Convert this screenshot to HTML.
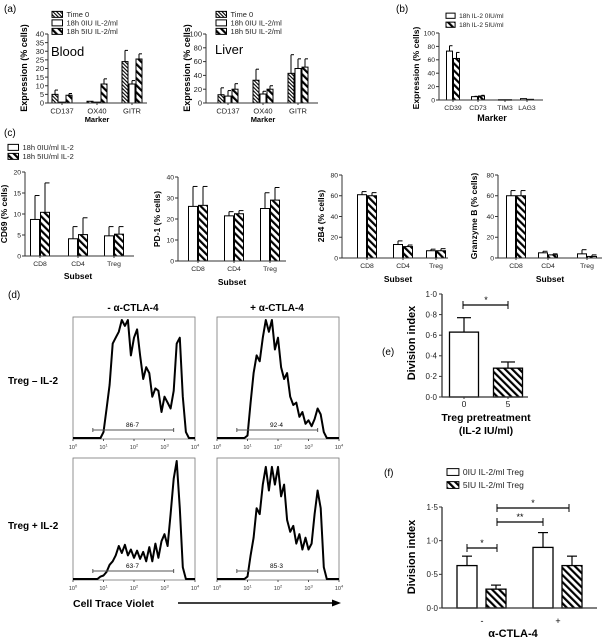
<!DOCTYPE html>
<html><head><meta charset="utf-8"><style>
html,body{margin:0;padding:0;background:#fff;}
svg{display:block;font-family:"Liberation Sans",sans-serif;}
</style></head><body>
<svg id="fig" width="606" height="639" viewBox="0 0 606 639" xmlns="http://www.w3.org/2000/svg">
<defs>
<pattern id="hatchWide" patternUnits="userSpaceOnUse" width="5" height="5" patternTransform="rotate(-45)"><rect width="5" height="5" fill="#fff"/><rect width="2.2" height="5" fill="#000"/></pattern>
<pattern id="hatchFine" patternUnits="userSpaceOnUse" width="2.6" height="2.6" patternTransform="rotate(-45)"><rect width="2.6" height="2.6" fill="#fff"/><rect width="1.1" height="2.6" fill="#000"/></pattern>
</defs>
<g id="root"></g>
<g font-size="8" text-anchor="end" fill="#222">
<text x="437" y="399.8">0·0</text>
<text x="437" y="379.2">0·2</text>
<text x="437" y="358.6">0·4</text>
<text x="437" y="338.0">0·6</text>
<text x="437" y="317.4">0·8</text>
<text x="437" y="296.8">1·0</text>
</g>
</svg>
<script>
// ---------- data ----------
const aCats = ["CD137","OX40","GITR"];
const bloodT0 = [5,1,24], bloodT0Err = [2.5,0,6.5];
const blood0 = [0.5,0.5,11], blood0Err = [0,0,2];
const blood5 = [4.5,11,25.5], blood5Err = [1,3,3];
const bloodTicks = [0,5,10,15,20,25,30,35,40];
const liverT0 = [12,33,43], liverT0Err = [10,16,27];
const liver0 = [10,13,50], liver0Err = [8,4,14];
const liver5 = [20,20,52], liver5Err = [8,5,12];
const liverTicks = [0,20,40,60,80,100];
const bCats = ["CD39","CD73","TIM3","LAG3"];
const b0 = [73,5,0.5,2], b0Err = [8,0.5,0,0];
const b5 = [62,6,0.5,1], b5Err = [9,1,0,0];
const bTicks = [0,20,40,60,80,100];
const cCats = ["CD8","CD4","Treg"];
const cd69_0 = [8.7,4.1,4.8], cd69_0Err = [5.7,2.9,2.2];
const cd69_5 = [10.4,5.1,5.2], cd69_5Err = [7,4,1.8];
const cd69Ticks = [0,5,10,15,20];
const pd1_0 = [26,21.5,25], pd1_0Err = [9.5,2,7.5];
const pd1_5 = [26.5,22.5,29], pd1_5Err = [9,1.5,6];
const pd1Ticks = [0,10,20,30,40];
const b4_0 = [61,13,7], b4_0Err = [3,3.5,1.5];
const b4_5 = [60,11,7], b4_5Err = [3,1.5,2];
const gzb_0 = [60,5,4], gzb_0Err = [5,1.5,4];
const gzb_5 = [60,3,1.5], gzb_5Err = [5,1,1.5];
const c80Ticks = [0,20,40,60,80];
const eCats = ["0","5"];
const eVals = [0.63,0.28], eErr = [0.14,0.06];
const eTickVals = [0,0.2,0.4,0.6,0.8,1.0];
const fVals = [0.63,0.28,0.90,0.63], fErr = [0.14,0.06,0.22,0.14];
const fTicks = ["0·0","0·5","1·0","1·5"];
const histTL = [0,0,0,0,0,0,0,0,0,0,0.05,0.25,0.45,0.8,0.85,0.9,1.0,0.95,1.0,0.7,0.85,0.92,0.7,0.5,0.6,0.55,0.35,0.42,0.4,0.22,0.35,0.3,0.25,0.4,0.8,0.85,0.35,0.05,0,0,0];
const histTR = [0,0,0,0,0,0,0,0,0,0,0.02,0.3,0.55,0.7,0.65,0.85,1.0,0.9,1.0,0.75,0.85,0.6,0.5,0.55,0.35,0.28,0.3,0.18,0.22,0.12,0.15,0.1,0.16,0.25,0.2,0.05,0,0,0,0,0];
const histBL = [0,0,0,0,0,0,0,0,0,0.02,0.03,0.06,0.12,0.15,0.2,0.28,0.22,0.29,0.2,0.25,0.18,0.24,0.17,0.23,0.15,0.27,0.15,0.3,0.18,0.32,0.38,0.28,0.55,0.85,1.0,0.6,0.1,0,0,0,0];
const histBR = [0,0,0,0,0,0,0,0,0,0,0.02,0.2,0.35,0.6,0.55,0.8,0.95,0.75,0.95,0.8,0.95,0.7,0.8,0.5,0.4,0.45,0.3,0.38,0.25,0.35,0.25,0.3,0.55,0.75,0.6,0.1,0,0,0,0,0];
const gateLabels = ["86·7","92·4","63·7","85·3"];

// ---------- helpers ----------
const NS="http://www.w3.org/2000/svg";
const root=document.getElementById('root');
function el(tag,attrs,parent,text){const e=document.createElementNS(NS,tag);for(const k in attrs)e.setAttribute(k,attrs[k]);if(text!==undefined)e.textContent=text;(parent||root).appendChild(e);return e;}
function txt(x,y,s,size,opts,parent){opts=opts||{};const t=el('text',{x:x,y:y,'font-size':size,'text-anchor':opts.anchor||'start','font-weight':opts.bold?'bold':'normal',fill:opts.fill||'#000'},parent,s);if(opts.rot)t.setAttribute('transform','rotate(-90 '+x+' '+y+')');return t;}

function barChart(cfg){
  const g=el('g',{});
  
  
  const y0=cfg.y0,y1=cfg.y1,max=cfg.max;
  const ys=v=>y0-(v/max)*(y0-y1);
  cfg.series.forEach((s,si)=>{
    s.vals.forEach((v,i)=>{
      const cx=cfg.cx[i]+(si-(cfg.series.length-1)/2)*cfg.bw;
      const x=cx-cfg.bw/2+0.5, w=cfg.bw-1;
      const yt=ys(v);
      const err=s.err[i];
      if(err>0){
        const ye=ys(v+err);
        const l=el('line',{x1:cx,y1:yt,x2:cx,y2:ye,stroke:'#000','stroke-width':1},g);
        
        
        el('line',{x1:cx,y1:ye,x2:cx+w/2,y2:ye,stroke:'#000','stroke-width':1},g);
      }
      const r=el('rect',{x:x,y:yt,width:w,height:Math.max(0.5,y0-yt),fill:s.fill,stroke:'#000','stroke-width':cfg.sw||1},g);
      
      
    });
  });
  el('line',{x1:cfg.x0,y1:y0,x2:cfg.x0,y2:y1,stroke:'#333','stroke-width':cfg.aw||1},g);
  el('line',{x1:cfg.x0,y1:y0,x2:cfg.xEnd,y2:y0,stroke:'#333','stroke-width':cfg.aw||1},g);
  cfg.ticks.forEach((t,i)=>{
    const y=ys(t);
    el('line',{x1:cfg.x0-3,y1:y,x2:cfg.x0,y2:y,stroke:'#333','stroke-width':1},g);
    txt(cfg.x0-4,y+cfg.tfs*0.35,String(t),cfg.tfs,{anchor:'end',fill:'#222'},g);
  });
  cfg.cats.forEach((c,i)=>{
    el('line',{x1:cfg.cx[i],y1:y0,x2:cfg.cx[i],y2:y0+2,stroke:'#333'},g);
    txt(cfg.cx[i],y0+cfg.tfs+3,c,cfg.tfs,{anchor:'middle',fill:'#222'},g);
  });
  if(cfg.xlabel) txt(cfg.xlx,cfg.xly,cfg.xlabel,cfg.xfs,{anchor:'middle',bold:true},g);
  if(cfg.ylabel) txt(cfg.ylx,cfg.yly,cfg.ylabel,cfg.yfs,{anchor:'middle',bold:true,rot:true},g);
  return g;
}
function legend(x,y,items,fs,dy){
  const g=el('g',{});
  
  
  items.forEach((it,i)=>{
    const yy=y+i*dy;
    el('rect',{x:x,y:yy-fs*0.75,width:fs*1.4,height:fs*0.8,fill:it[1],stroke:'#000','stroke-width':1},g);
    const t=txt(x+fs*1.4+4,yy,it[0],fs,{fill:'#222'},g);
    
    
  });
}
const W='#fff',HW='url(#hatchWide)',HF='url(#hatchFine)';

// ---------- panel a ----------
txt(4,12,'(a)',10);
legend(52,17,[['Time 0',HF],['18h 0IU IL-2/ml',W],['18h 5IU IL-2/ml',HW]],7.5,8.5);
barChart({name:'blood-chart',x0:48,xEnd:147,y0:103,y1:34,max:40,cx:[62,97,132],bw:7,cats:aCats,ticks:bloodTicks,tfs:7.5,
 series:[{key:'t0',vals:bloodT0,err:bloodT0Err,fill:HF},{key:'0iu',vals:blood0,err:blood0Err,fill:W},{key:'5iu',vals:blood5,err:blood5Err,fill:HW}],
 xlabel:'Marker',xlx:97,xly:122,xfs:7.5,ylabel:'Expression (% cells)',ylx:27,yly:68,yfs:9});
txt(51,56,'Blood',13);
legend(216,17,[['Time 0',HF],['18h 0IU IL-2/ml',W],['18h 5IU IL-2/ml',HW]],7.5,8.5);
barChart({name:'liver-chart',x0:206,xEnd:318,y0:103,y1:34,max:100,cx:[228,263,298],bw:7,cats:aCats,ticks:liverTicks,tfs:7.5,
 series:[{key:'t0',vals:liverT0,err:liverT0Err,fill:HF},{key:'0iu',vals:liver0,err:liver0Err,fill:W},{key:'5iu',vals:liver5,err:liver5Err,fill:HW}],
 xlabel:'Marker',xlx:263,xly:122,xfs:7.5,ylabel:'Expression (% cells)',ylx:190,yly:68,yfs:9});
txt(215,54,'Liver',13);

// ---------- panel b ----------
txt(396,12,'(b)',10);
legend(446,18,[['18h IL-2 0IU/ml',W],['18h IL-2 5IU/ml',HW]],6.5,9);
barChart({name:'b-chart',x0:439,xEnd:543,y0:100,y1:33,max:100,cx:[453,478,505,527],bw:7,cats:bCats,ticks:bTicks,tfs:6.8,
 series:[{key:'0iu',vals:b0,err:b0Err,fill:W},{key:'5iu',vals:b5,err:b5Err,fill:HW}],
 xlabel:'Marker',xlx:492,xly:121,xfs:9,ylabel:'Expression (% cells)',ylx:419,yly:68,yfs:8.5});

// ---------- panel c ----------
txt(4,136,'(c)',10);
legend(8,150,[['18h 0IU/ml IL-2',W],['18h 5IU/ml IL-2',HW]],7.5,9);
barChart({name:'cd69-chart',x0:25,xEnd:134,y0:256,y1:172,max:20,cx:[40,78,114],bw:10,cats:cCats,ticks:cd69Ticks,tfs:6.8,
 series:[{key:'0iu',vals:cd69_0,err:cd69_0Err,fill:W},{key:'5iu',vals:cd69_5,err:cd69_5Err,fill:HW}],
 xlabel:'Subset',xlx:78,xly:279,xfs:8.5,ylabel:'CD69 (% cells)',ylx:7,yly:214,yfs:8.5});
barChart({name:'pd1-chart',x0:178,xEnd:286,y0:261,y1:177,max:40,cx:[198,234,270],bw:10,cats:cCats,ticks:pd1Ticks,tfs:6.8,
 series:[{key:'0iu',vals:pd1_0,err:pd1_0Err,fill:W},{key:'5iu',vals:pd1_5,err:pd1_5Err,fill:HW}],
 xlabel:'Subset',xlx:232,xly:285,xfs:8.5,ylabel:'PD-1 (% cells)',ylx:160,yly:219,yfs:8.5});
barChart({name:'2b4-chart',x0:342,xEnd:448,y0:258,y1:175,max:80,cx:[367,403,436],bw:10,cats:cCats,ticks:c80Ticks,tfs:6.8,
 series:[{key:'0iu',vals:b4_0,err:b4_0Err,fill:W},{key:'5iu',vals:b4_5,err:b4_5Err,fill:HW}],
 xlabel:'Subset',xlx:398,xly:282,xfs:8.5,ylabel:'2B4 (% cells)',ylx:324,yly:216,yfs:8.5});
barChart({name:'granzyme-chart',x0:498,xEnd:602,y0:258,y1:175,max:80,cx:[516,548,587],bw:10,cats:cCats,ticks:c80Ticks,tfs:6.8,
 series:[{key:'0iu',vals:gzb_0,err:gzb_0Err,fill:W},{key:'5iu',vals:gzb_5,err:gzb_5Err,fill:HW}],
 xlabel:'Subset',xlx:550,xly:282,xfs:8.5,ylabel:'Granzyme B (% cells)',ylx:477,yly:216,yfs:8.5});

// ---------- panel d ----------
txt(8,298,'(d)',10);
txt(133,311,'- α-CTLA-4',10,{anchor:'middle',bold:true});
txt(277,311,'+ α-CTLA-4',10,{anchor:'middle',bold:true});
txt(8,384,'Treg – IL-2',10,{bold:true});
txt(8,529,'Treg + IL-2',10,{bold:true});
function histo(name,data,bx,by,bw,bh,label){
  const g=el('g',{});
  
  
  el('rect',{x:bx,y:by,width:bw,height:bh,fill:'none',stroke:'#777','stroke-width':0.8},g);
  const xs=l=>bx+l/4*bw, ysf=v=>by+bh-1-v*(bh-4);
  let d='';
  data.forEach((v,i)=>{d+=(i?'L':'M')+xs(i*0.1).toFixed(1)+' '+ysf(v).toFixed(1)+' ';});
  const p=el('path',{d:d,fill:'none',stroke:'#000','stroke-width':2,'stroke-linejoin':'round'},g);
  
  
  const gy=by+bh-9;
  el('line',{x1:xs(0.65),y1:gy,x2:xs(3.3),y2:gy,stroke:'#555','stroke-width':1},g);
  el('line',{x1:xs(0.65),y1:gy-2,x2:xs(0.65),y2:gy+2,stroke:'#555'},g);
  el('line',{x1:xs(3.3),y1:gy-2,x2:xs(3.3),y2:gy+2,stroke:'#555'},g);
  txt(xs(1.95),gy-3,label,6.5,{anchor:'middle'},g);
  for(let k=0;k<=4;k++){
    const x=xs(k);
    el('line',{x1:x,y1:by+bh,x2:x,y2:by+bh+2,stroke:'#555'},g);
    const t=txt(x,by+bh+10,'10',5.5,{anchor:'middle',fill:'#333'},g);
    el('tspan',{dy:-2.5,'font-size':4},t,String(k));
  }
}
histo('hist-no-il2-no-ab',histTL,73,317,122,122,gateLabels[0]);
histo('hist-no-il2-ab',histTR,217,317,122,122,gateLabels[1]);
histo('hist-il2-no-ab',histBL,73,458,122,122,gateLabels[2]);
histo('hist-il2-ab',histBR,217,458,122,122,gateLabels[3]);
txt(73,607,'Cell Trace Violet',10.5,{bold:true});
el('line',{x1:178,y1:603,x2:334,y2:603,stroke:'#000','stroke-width':1.6});
el('polygon',{points:'341,603 332,599.5 332,606.5',fill:'#000'});

// ---------- panel e ----------
txt(382,355,'(e)',10);
const eG=el('g',{});


const eX0=442,eXEnd=528,eY0=397,eY1=294;
function eYs(v){return eY0-v*(eY0-eY1);}
eTickVals.forEach(v=>{const y=eYs(v);el('line',{x1:eX0-3,y1:y,x2:eX0,y2:y,stroke:'#333'},eG);});
(function(){
 const fills=[W,HW];const cxs=[464,508];
 eVals.forEach((v,i)=>{const cx=cxs[i];const ye=eYs(v+eErr[i]);
  el('line',{x1:cx,y1:eYs(v),x2:cx,y2:ye,stroke:'#000','stroke-width':1.2},eG);
  el('line',{x1:cx-7,y1:ye,x2:cx+7,y2:ye,stroke:'#000','stroke-width':1.2},eG);
  const r=el('rect',{x:cx-14.5,y:eYs(v),width:29,height:eY0-eYs(v),fill:fills[i],stroke:'#000','stroke-width':1.3},eG);
  
  
  el('line',{x1:cx,y1:eY0,x2:cx,y2:eY0+2,stroke:'#333'},eG);
  txt(cx,eY0+10,eCats[i],8.5,{anchor:'middle',fill:'#222'},eG);});
 el('line',{x1:eX0,y1:eY0,x2:eX0,y2:eY1,stroke:'#333','stroke-width':1.3},eG);
 el('line',{x1:eX0,y1:eY0,x2:eXEnd,y2:eY0,stroke:'#333','stroke-width':1.3},eG);
 el('line',{x1:463,y1:305,x2:508,y2:305,stroke:'#000','stroke-width':1.3},eG);
 el('line',{x1:463,y1:301,x2:463,y2:309,stroke:'#000'},eG);el('line',{x1:508,y1:301,x2:508,y2:309,stroke:'#000'},eG);
 txt(486,303,'*',9,{anchor:'middle'},eG);
 txt(415,343,'Division index',11,{anchor:'middle',bold:true,rot:true},eG);
 txt(486,421,'Treg pretreatment',10.5,{anchor:'middle',bold:true},eG);
 txt(486,434,'(IL-2 IU/ml)',10.5,{anchor:'middle',bold:true},eG);
})();

// ---------- panel f ----------
txt(384,476,'(f)',10);
legend(447,475,[['0IU IL-2/ml  Treg',W],['5IU IL-2/ml Treg',HW]],8.5,13);
(function(){const g=el('g',{});
 
 
 const x0=442,xEnd=597,y0=608,y1=507,max=1.5,ys=v=>y0-v/max*(y0-y1);
 const cxs=[467,496,543,572],fills=[W,HW,W,HW];
 fVals.forEach((v,i)=>{const cx=cxs[i];const ye=ys(v+fErr[i]);
  el('line',{x1:cx,y1:ys(v),x2:cx,y2:ye,stroke:'#000','stroke-width':1.2},g);
  el('line',{x1:cx-5,y1:ye,x2:cx+5,y2:ye,stroke:'#000','stroke-width':1.2},g);
  const r=el('rect',{x:cx-10,y:ys(v),width:20,height:y0-ys(v),fill:fills[i],stroke:'#000','stroke-width':1.3},g);
  
  });
 el('line',{x1:x0,y1:y0,x2:x0,y2:y1,stroke:'#333','stroke-width':1.3},g);
 el('line',{x1:x0,y1:y0,x2:xEnd,y2:y0,stroke:'#333','stroke-width':1.3},g);
 fTicks.forEach((t,i)=>{const y=ys(i*0.5);el('line',{x1:x0-3,y1:y,x2:x0,y2:y,stroke:'#333'},g);txt(x0-4,y+2.8,t,8,{anchor:'end',fill:'#222'},g);});
 txt(482,624,'-',9,{anchor:'middle'},g);txt(558,624,'+',9,{anchor:'middle'},g);
 const sig=(xa,xb,y,s)=>{el('line',{x1:xa,y1:y,x2:xb,y2:y,stroke:'#000','stroke-width':1.3},g);el('line',{x1:xa,y1:y-4,x2:xa,y2:y+4,stroke:'#000'},g);el('line',{x1:xb,y1:y-4,x2:xb,y2:y+4,stroke:'#000'},g);txt((xa+xb)/2,y-2,s,9,{anchor:'middle'},g);};
 sig(467,497,548,'*');sig(497,543,522,'**');sig(497,569,508,'*');
 txt(415,557,'Division index',11,{anchor:'middle',bold:true,rot:true},g);
 txt(513,637,'α-CTLA-4',11,{anchor:'middle',bold:true},g);
})();
</script>
</body></html>
